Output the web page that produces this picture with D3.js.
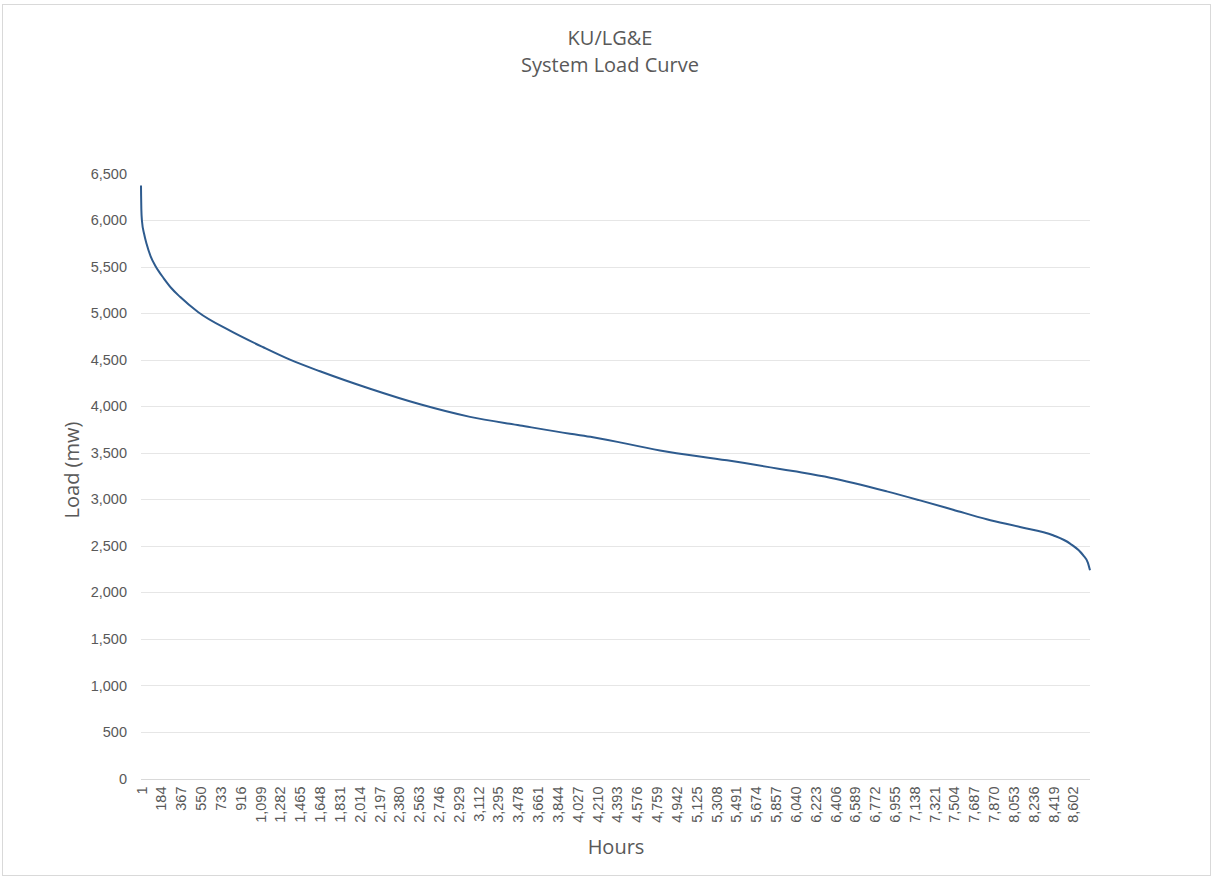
<!DOCTYPE html>
<html>
<head>
<meta charset="utf-8">
<script src="https://cdn.jsdelivr.net/npm/d3@7.9.0/dist/d3.min.js"></script>
<style>
  body { margin: 0; background: #fff; }
  svg { display: block; font-family: "Open Sans", sans-serif; }
</style>
</head>
<body>
<div id="chart"></div>
<script>
const hours = [1, 2, 4, 10, 30, 53, 90, 130, 170, 207, 280, 361, 530, 822, 1130, 1376, 1653, 2115, 2577, 3038,
  3500, 3961, 4173, 4791, 5410, 6019, 6361, 6884, 7191, 7496, 7807, 8114, 8419, 8576, 8698, 8740, 8760];
const loads = [6370, 6260, 6120, 5990, 5850, 5743, 5610, 5515, 5440, 5380, 5270, 5175, 5010, 4812, 4633, 4500, 4375, 4187, 4020, 3885,
  3793, 3704, 3667, 3525, 3418, 3303, 3232, 3085, 2988, 2888, 2785, 2702, 2613, 2524, 2398, 2320, 2237];

// category labels shown every 183 hours
const hourTicks = [1, 184, 367, 550, 733, 916, 1099, 1282, 1465, 1648, 1831, 2014, 2197, 2380, 2563, 2746, 2929,
  3112, 3295, 3478, 3661, 3844, 4027, 4210, 4393, 4576, 4759, 4942, 5125, 5308, 5491, 5674, 5857, 6040, 6223,
  6406, 6589, 6772, 6955, 7138, 7321, 7504, 7687, 7870, 8053, 8236, 8419, 8602];
const loadTicks = [0, 500, 1000, 1500, 2000, 2500, 3000, 3500, 4000, 4500, 5000, 5500, 6000, 6500];

const titleLines = ['KU/LG&E', 'System Load Curve'];

const W = 1214, H = 879;
const textColor = '#595959';

const svg = d3.select('#chart').append('svg')
  .attr('width', W)
  .attr('height', H);

// chart area border
svg.append('rect')
  .attr('x', 2.5).attr('y', 4.5)
  .attr('width', W - 6).attr('height', H - 8)
  .attr('fill', '#fff')
  .attr('stroke', '#d9d9d9');

const x = d3.scaleLinear().domain([1, 8760]).range([141, 1090]);
const y = d3.scaleLinear().domain([0, 6500]).range([778.5, 173.5]);

// gridlines
svg.append('g')
  .selectAll('line')
  .data(loadTicks.filter(d => d > 0 && d < 6500))
  .join('line')
  .attr('x1', x.range()[0]).attr('x2', x.range()[1])
  .attr('y1', d => Math.round(y(d)) + 0.5)
  .attr('y2', d => Math.round(y(d)) + 0.5)
  .attr('stroke', '#e6e6e6')
  .attr('stroke-width', 1);

// y axis labels
const yAxis = svg.append('g')
  .attr('transform', `translate(${x.range()[0]},0)`)
  .call(d3.axisLeft(y).tickValues(loadTicks).tickSize(0).tickPadding(14).tickFormat(d3.format(',')));
yAxis.select('.domain').remove();
yAxis.selectAll('text')
  .attr('fill', textColor)
  .style('font-size', '14.5px');

// x axis
const xAxis = svg.append('g')
  .attr('transform', `translate(0,${Math.round(y(0)) + 0.5})`)
  .call(d3.axisBottom(x).tickValues(hourTicks).tickSize(0).tickFormat(d3.format(',')));
xAxis.select('.domain')
  .attr('stroke', '#d9d9d9')
  .attr('d', `M${x.range()[0]},0H${x.range()[1]}`);
xAxis.selectAll('text')
  .attr('fill', textColor)
  .style('font-size', '14.5px')
  .attr('text-anchor', 'end')
  .attr('dy', '0.35em')
  .attr('transform', 'translate(0,7) rotate(-90)')
  .attr('x', 0)
  .attr('y', 0);

// load curve
const line = d3.line()
  .x((d, i) => x(hours[i]))
  .y(d => y(d))
  .curve(d3.curveMonotoneX);

svg.append('path')
  .datum(loads)
  .attr('fill', 'none')
  .attr('stroke', '#2e5b8e')
  .attr('stroke-width', 2)
  .attr('d', line);

// titles
svg.append('g')
  .selectAll('text')
  .data(titleLines)
  .join('text')
  .attr('x', 610)
  .attr('y', (d, i) => 45 + i * 27)
  .attr('text-anchor', 'middle')
  .attr('fill', textColor)
  .style('font-size', '20px')
  .text(d => d);

svg.append('text')
  .attr('transform', 'translate(79,470) rotate(-90)')
  .attr('text-anchor', 'middle')
  .attr('fill', textColor)
  .style('font-size', '20px')
  .text('Load (mw)');

svg.append('text')
  .attr('x', 616)
  .attr('y', 854)
  .attr('text-anchor', 'middle')
  .attr('fill', textColor)
  .style('font-size', '20px')
  .text('Hours');
</script>
</body>
</html>
